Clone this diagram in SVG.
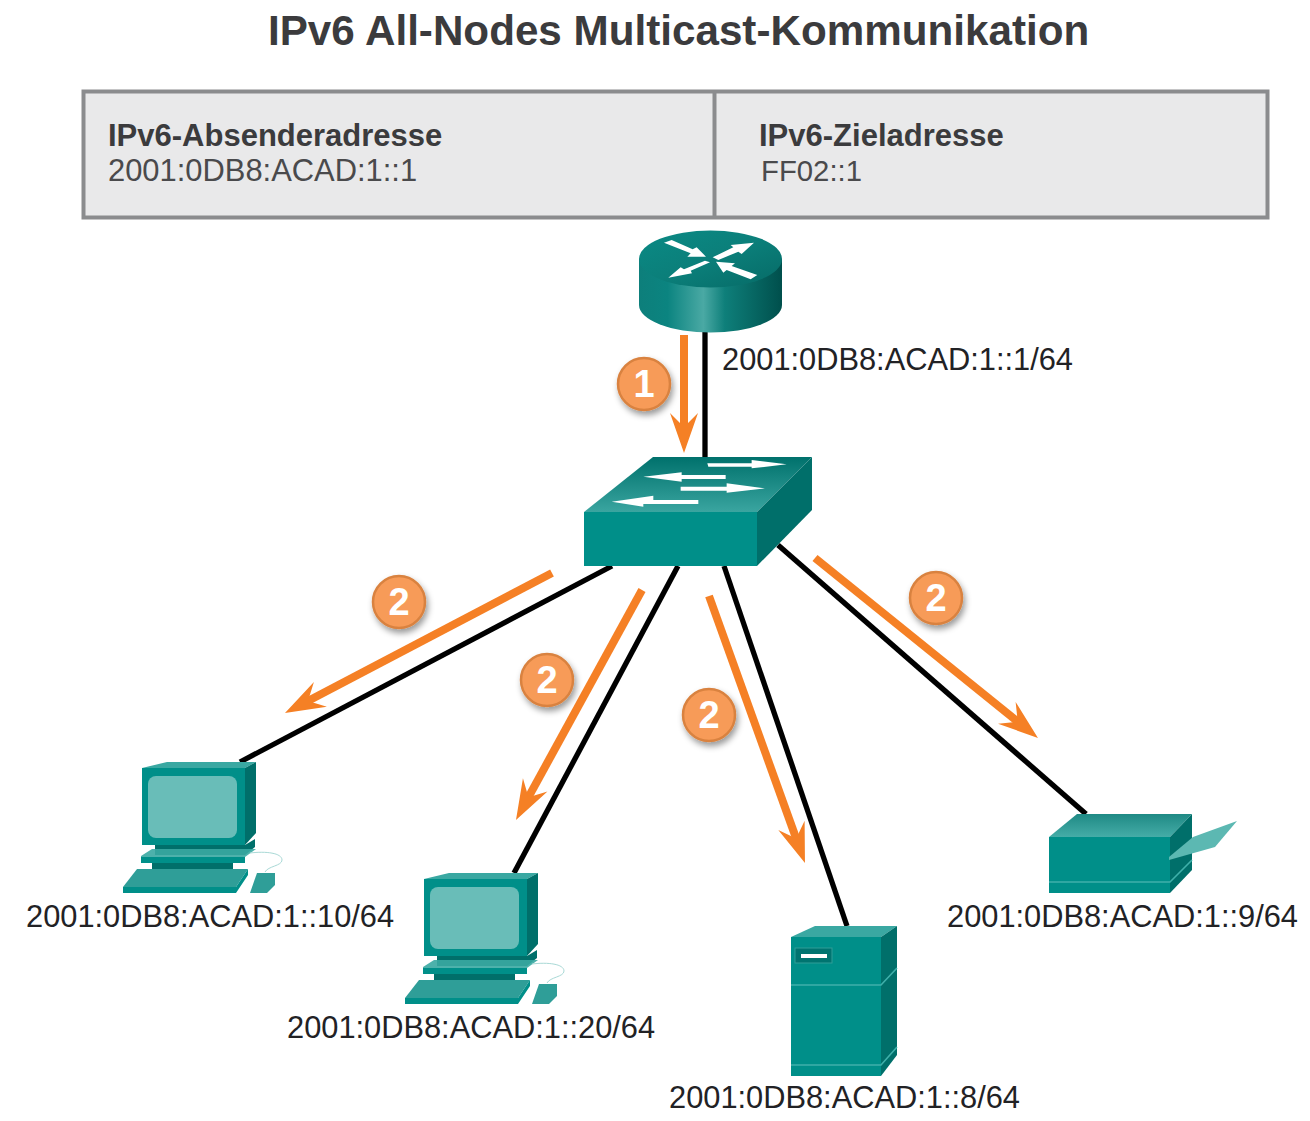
<svg xmlns="http://www.w3.org/2000/svg" width="1310" height="1121" viewBox="0 0 1310 1121">
<style>
text{font-family:"Liberation Sans",Arial,sans-serif}
.title{font-size:42.2px;font-weight:700;fill:#3b3b3d}
.head{font-size:31px;font-weight:700;fill:#3b3b3d}
.val{font-size:30.9px;fill:#4a4a4c}
.addr{font-size:30.8px;fill:#222225}
.wire{stroke:#000;stroke-width:5.300;fill:none}
.flow{stroke:#f58025;stroke-width:8;fill:none;marker-end:url(#ah)}
.badge{fill:#f79b58;stroke:#d9823f;stroke-width:2.500;filter:url(#sh)}
.num{font-size:38px;font-weight:700;fill:#fff;text-anchor:middle}
.f{fill:#008f89}.d{fill:#006f6a}.l{fill:#3aa8a2}.hl{stroke:#3fb0aa;stroke-width:1.600;fill:none}
.ar{fill:#fff}
</style>
<defs>
<marker id="ah" markerUnits="userSpaceOnUse" markerWidth="60" markerHeight="40" viewBox="-30 -20 60 40" refX="0" refY="0" orient="auto"><path d="M20 0L-20-14L-6 0L-20 14Z" fill="#f58025"/></marker>
<filter id="sh" x="-30%" y="-30%" width="170%" height="170%"><feDropShadow dx="2" dy="4" stdDeviation="3" flood-color="#000" flood-opacity=".4"/></filter>
<linearGradient id="rs" x1="0" x2="1" y1="0" y2="0"><stop offset="0" stop-color="#0d7f7b"/><stop offset=".2" stop-color="#0b8480"/><stop offset=".45" stop-color="#4aa9a4"/><stop offset=".6" stop-color="#0e7f7a"/><stop offset="1" stop-color="#004f4c"/></linearGradient>
<linearGradient id="rt" x1="0" x2="1" y1="0" y2="1"><stop offset="0" stop-color="#0a8a85"/><stop offset=".5" stop-color="#0b7f7a"/><stop offset="1" stop-color="#066a66"/></linearGradient>
<linearGradient id="st" x1="0" x2="0" y1="0" y2="1"><stop offset="0" stop-color="#00716c"/><stop offset="1" stop-color="#3aa5a0"/></linearGradient>
<linearGradient id="pt" x1="0" x2="0" y1="0" y2="1"><stop offset="0" stop-color="#1f8a85"/><stop offset="1" stop-color="#45aca7"/></linearGradient>
<g id="pc">
<path class="l" d="M142 768L167 762H256L245 768Z"/>
<rect class="f" x="142" y="768" width="103" height="77"/>
<path class="d" d="M245 768L256 762V833L245 845Z"/>
<rect x="148" y="776" width="89" height="62" rx="8" fill="#69bdb8"/>
<path class="d" d="M155 845H245L255 839V847L245 855H155Z"/>
<path class="l" d="M141 856L152 849H256L245 857V862H141Z" opacity=".9"/>
<rect class="f" x="141" y="857" width="104" height="6"/>
<path class="d" d="M152 863H233V869H152Z"/>
<path fill="#2f9e98" d="M123 887L137 869H248L236 887Z"/>
<path class="f" d="M123 887H236V893H123ZM236 887L248 869V875L236 893Z"/>
<path fill="#2f9e98" d="M250 893L257 873H275V885L267 893Z"/>
<path d="M250 853C266 851 282 853 282 860C282 866 268 866 265 872" fill="none" stroke="#a9d9d6" stroke-width="1"/>
</g>
</defs>
<rect width="1310" height="1121" fill="#fff"/>
<text class="title" x="268" y="45">IPv6 All-Nodes Multicast-Kommunikation</text>
<g id="header">
<rect x="83.500" y="91.500" width="1184" height="126" fill="#e9e9ea" stroke="#8b8c8e" stroke-width="4"/>
<line x1="714.500" y1="92" x2="714.500" y2="217" stroke="#8b8c8e" stroke-width="4"/>
<text class="head" x="108" y="146">IPv6-Absenderadresse</text>
<text class="val" x="108" y="181">2001:0DB8:ACAD:1::1</text>
<text class="head" x="759" y="146">IPv6-Zieladresse</text>
<text class="val" x="761" y="181" style="font-size:29.300px">FF02::1</text>
</g>
<g id="connectors">
<line class="wire" x1="705" y1="330" x2="705" y2="458"/>
<line class="wire" x1="612" y1="566" x2="240" y2="762"/>
<line class="wire" x1="678" y1="566" x2="514" y2="873"/>
<line class="wire" x1="724" y1="566" x2="847" y2="926"/>
<line class="wire" x1="778" y1="545" x2="1086" y2="814"/>
<line class="flow" x1="684" y1="335" x2="684" y2="433"/>
<line class="flow" x1="552" y1="573" x2="302.700" y2="703.700"/>
<line class="flow" x1="642" y1="590" x2="525.600" y2="802.400"/>
<line class="flow" x1="709" y1="596" x2="798.200" y2="844.200"/>
<line class="flow" x1="815" y1="558" x2="1022.400" y2="725.400"/>
</g>
<g id="router">
<path d="M639 259V305A71.500 27.500 0 0 0 782 305V259Z" fill="url(#rs)"/>
<ellipse cx="710.500" cy="259" rx="71.500" ry="28.500" fill="url(#rt)"/>
<path class="ar" transform="translate(560 230) scale(.3333)" d="M312 38L335 30L398 58L410 52L438 80L382 80L392 70ZM458 82L520 52L512 45L582 38L545 72L535 65L475 90ZM450 97L392 122L396 130L325 143L362 112L372 118L435 92ZM468 95L525 100L515 108L592 135L572 148L500 120L490 128Z"/>
<text class="addr" x="722" y="370">2001:0DB8:ACAD:1::1/64</text>
</g>
<g id="switch">
<path fill="url(#st)" d="M653 457H812L757 512H584Z"/>
<path class="f" d="M584 512H757V566H584Z"/>
<path class="d" d="M757 512L812 457V510L757 566Z"/>
<path class="ar" transform="translate(560 230) scale(.3333)" d="M442 700H575V690L680 703L575 715V710H445ZM497 735H365V727L250 740L365 755V747H497ZM362 770H500V760L615 775L500 788V782H362ZM415 810H280V797L155 815L250 830V822H415Z"/>
</g>
<g id="pc1"><use href="#pc"/><text class="addr" x="26" y="927">2001:0DB8:ACAD:1::10/64</text></g>
<g id="pc2"><use href="#pc" x="282" y="111"/><text class="addr" x="287" y="1038">2001:0DB8:ACAD:1::20/64</text></g>
<g id="server">
<path class="l" d="M791 937L815 926H897L881 937Z"/>
<rect class="f" x="791" y="937" width="90" height="139"/>
<path class="d" d="M881 937L897 926V1055L881 1076Z"/>
<path class="hl" d="M791 985H881L897 968M791 1065H881L897 1047"/>
<rect x="795" y="948" width="37" height="15" fill="#007470" stroke="#2f9e98"/>
<rect x="801" y="954" width="26" height="4" fill="#fff"/>
<text class="addr" x="669" y="1108">2001:0DB8:ACAD:1::8/64</text>
</g>
<g id="printer">
<path fill="url(#pt)" d="M1049 837L1077 814H1192L1170 837Z"/>
<rect class="f" x="1049" y="837" width="121" height="56"/>
<path class="d" d="M1170 837L1192 814V870L1170 893Z"/>
<path class="hl" d="M1049 882H1170L1192 860"/>
<path fill="#5cb8b2" d="M1169 857L1193 837L1237 821L1215 847L1169 860Z"/>
<text class="addr" x="947" y="927">2001:0DB8:ACAD:1::9/64</text>
</g>
<g id="badges">
<circle class="badge" cx="644" cy="384" r="26"/><text class="num" x="644" y="397">1</text>
<circle class="badge" cx="399" cy="602" r="26"/><text class="num" x="399" y="615">2</text>
<circle class="badge" cx="547" cy="680" r="26"/><text class="num" x="547" y="693">2</text>
<circle class="badge" cx="709" cy="715" r="26"/><text class="num" x="709" y="728">2</text>
<circle class="badge" cx="936" cy="598" r="26"/><text class="num" x="936" y="611">2</text>
</g>
</svg>
